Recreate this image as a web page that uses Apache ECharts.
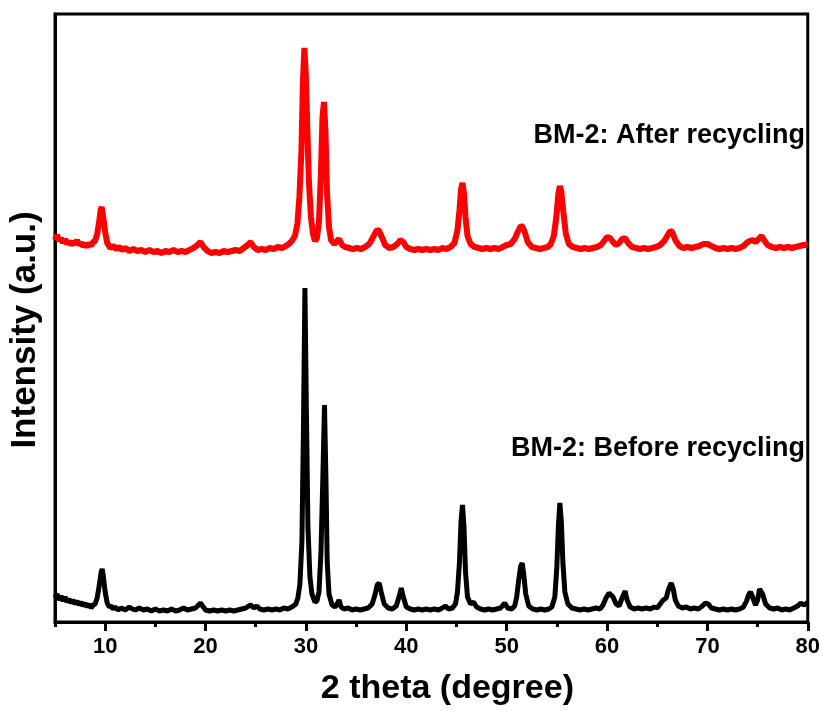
<!DOCTYPE html>
<html>
<head>
<meta charset="utf-8">
<script src="https://cdn.jsdelivr.net/npm/echarts@6/dist/echarts.min.js"></script>
<style>html,body{margin:0;padding:0;background:#fff;}#c{width:823px;height:711px;}</style>
</head>
<body>
<div id="c"></div>
<script>
// ---- data (2 theta in degrees, intensity in arbitrary units) ----
const xTickLabels = [10, 20, 30, 40, 50, 60, 70, 80];
const xMinorTicks = [5, 15, 25, 35, 45, 55, 65, 75];
const seriesNames = ['BM-2: Before recycling', 'BM-2: After recycling'];

const beforeData = [
[5.0,24],[5.2,28],[5.4,22],[5.6,26],[5.8,21],[6.0,25],[6.2,20],[6.4,23],[6.6,19],[6.8,22],[7.0,18],[7.2,21],[7.4,17],[7.6,20],[7.8,16],[8.0,19],[8.2,15],[8.4,18],[8.6,14],[8.8,17],
[9.0,18],[9.2,24],[9.4,36],[9.6,50],[9.7,53],[9.8,47],[10.0,30],[10.2,19],[10.4,15],[10.6,16],[10.8,13],[11.0,15],[11.3,12],[11.6,14],[12.0,12],[12.4,15],[12.7,13],[13.0,12],[13.4,14],[13.8,12],
[14.2,13],[14.6,11],[15.0,13],[15.4,11],[15.8,12],[16.2,11],[16.6,13],[17.0,11],[17.4,12],[17.8,14],[18.2,12],[18.6,13],[19.0,14],[19.3,17],[19.5,19],[19.7,16],[20.0,12],[20.4,11],[20.8,12],[21.2,11],
[21.6,12],[22.0,11],[22.4,12],[22.8,11],[23.2,12],[23.6,13],[24.0,14],[24.3,16],[24.5,17],[24.8,14],[25.1,16],[25.4,13],[25.8,12],[26.2,13],[26.6,12],[27.0,13],[27.4,12],[27.8,14],[28.2,13],[28.6,15],
[29.0,18],[29.2,24],[29.4,38],[29.6,80],[29.75,190],[29.9,334],[30.05,210],[30.2,95],[30.4,45],[30.6,28],[30.9,20],[31.1,21],[31.3,30],[31.5,70],[31.7,150],[31.85,217],[32.0,140],[32.12,60],[32.3,28],[32.6,17],
[32.9,15],[33.1,18],[33.3,22],[33.5,15],[33.8,13],[34.2,14],[34.6,12],[35.0,13],[35.4,12],[35.8,13],[36.2,14],[36.6,18],[36.9,28],[37.1,37],[37.3,39],[37.5,30],[37.8,18],[38.2,14],[38.6,13],[39.0,16],
[39.3,26],[39.5,34],[39.7,25],[40.0,15],[40.4,13],[40.8,12],[41.2,13],[41.6,12],[42.0,13],[42.4,12],[42.8,13],[43.2,12],[43.6,14],[43.9,16],[44.2,13],[44.6,14],[44.9,18],[45.1,30],[45.3,60],[45.45,100],
[45.6,117],[45.75,95],[45.9,50],[46.1,25],[46.4,18],[46.7,20],[47.0,15],[47.4,13],[47.8,12],[48.2,13],[48.6,12],[49.0,13],[49.4,14],[49.8,19],[50.1,14],[50.5,13],[50.8,16],[51.0,25],[51.2,42],[51.4,56],
[51.55,59],[51.7,48],[51.9,28],[52.2,16],[52.6,13],[53.0,12],[53.4,13],[53.8,12],[54.2,13],[54.5,15],[54.8,25],[55.0,55],[55.15,95],[55.3,119],[55.45,100],[55.6,60],[55.8,30],[56.1,18],[56.5,14],[56.9,13],
[57.3,12],[57.7,13],[58.1,12],[58.5,13],[58.9,14],[59.3,13],[59.6,17],[59.9,24],[60.2,29],[60.4,27],[60.6,25],[60.9,18],[61.2,16],[61.5,24],[61.8,31],[62.0,22],[62.3,15],[62.7,13],[63.1,14],[63.5,13],
[63.9,14],[64.3,13],[64.7,15],[65.0,14],[65.3,18],[65.6,22],[65.9,24],[66.1,32],[66.4,39],[66.6,33],[66.8,22],[67.1,16],[67.5,14],[67.9,15],[68.3,13],[68.7,14],[69.1,13],[69.5,16],[69.8,19],[70.1,18],
[70.4,14],[70.8,13],[71.2,12],[71.6,13],[72.0,12],[72.4,13],[72.8,12],[73.2,13],[73.6,15],[73.9,21],[74.1,27],[74.3,30],[74.5,25],[74.8,17],[75.0,22],[75.2,33],[75.35,35],[75.5,28],[75.8,18],[76.2,14],
[76.6,13],[77.0,14],[77.4,12],[77.8,13],[78.2,12],[78.6,14],[79.0,16],[79.3,19],[79.6,17],[79.8,18],[80.0,20]
];

const afterData = [
[5.0,382],[5.2,387],[5.4,381],[5.6,384],[5.8,379],[6.0,383],[6.2,378],[6.4,381],[6.6,377],[6.8,380],[7.0,378],[7.2,382],[7.4,377],[7.6,379],[7.8,376],[8.0,378],[8.2,375],[8.4,379],[8.6,376],[8.8,380],
[9.0,381],[9.2,388],[9.4,400],[9.55,412],[9.65,415],[9.8,405],[10.0,390],[10.2,379],[10.5,374],[10.8,376],[11.1,373],[11.4,375],[11.7,372],[12.0,374],[12.4,371],[12.8,373],[13.2,371],[13.6,372],[14.0,370],[14.4,372],
[14.8,370],[15.2,371],[15.6,369],[16.0,371],[16.4,370],[16.8,372],[17.2,370],[17.6,371],[18.0,370],[18.4,372],[18.8,374],[19.2,377],[19.5,380],[19.8,375],[20.2,371],[20.6,369],[21.0,370],[21.4,369],[21.8,371],[22.2,370],
[22.6,371],[23.0,372],[23.4,371],[23.8,374],[24.2,377],[24.5,380],[24.8,375],[25.2,372],[25.6,373],[26.0,372],[26.4,374],[26.8,373],[27.2,375],[27.6,374],[28.0,376],[28.3,378],[28.6,381],[28.9,386],[29.15,398],[29.35,425],
[29.55,470],[29.7,540],[29.85,574],[30.0,545],[30.15,490],[30.3,440],[30.5,405],[30.7,388],[30.9,381],[31.1,384],[31.3,400],[31.5,450],[31.65,505],[31.8,520],[31.95,490],[32.1,430],[32.3,395],[32.5,382],[32.8,378],[33.0,380],
[33.3,383],[33.6,377],[33.9,375],[34.3,374],[34.7,373],[35.1,374],[35.5,373],[35.9,375],[36.3,378],[36.6,383],[36.9,389],[37.1,392],[37.3,391],[37.6,384],[37.9,377],[38.3,374],[38.7,375],[39.1,378],[39.4,382],[39.7,380],
[40.0,375],[40.4,373],[40.8,372],[41.2,373],[41.6,372],[42.0,373],[42.4,372],[42.8,373],[43.2,372],[43.6,374],[44.0,373],[44.4,375],[44.8,379],[45.1,392],[45.3,412],[45.45,432],[45.6,439],[45.75,428],[45.9,405],[46.1,386],
[46.4,378],[46.8,375],[47.2,374],[47.6,373],[48.0,374],[48.4,373],[48.8,374],[49.2,373],[49.6,375],[50.0,377],[50.4,378],[50.8,383],[51.1,390],[51.4,396],[51.6,395],[51.8,390],[52.1,380],[52.5,375],[52.9,374],[53.3,373],
[53.7,374],[54.1,375],[54.4,378],[54.7,386],[54.95,405],[55.15,428],[55.3,436],[55.45,430],[55.65,410],[55.9,388],[56.2,378],[56.6,375],[57.0,374],[57.4,373],[57.8,374],[58.2,373],[58.6,374],[59.0,375],[59.4,377],[59.7,381],
[60.0,385],[60.3,384],[60.6,380],[60.9,377],[61.2,379],[61.5,383],[61.8,384],[62.1,379],[62.5,375],[62.9,374],[63.3,373],[63.7,374],[64.1,373],[64.5,374],[64.9,375],[65.3,377],[65.7,381],[66.0,386],[66.3,391],[66.5,390],
[66.8,382],[67.2,376],[67.6,374],[68.0,375],[68.4,374],[68.8,375],[69.2,376],[69.6,378],[70.0,378],[70.4,376],[70.8,374],[71.2,373],[71.6,374],[72.0,373],[72.4,374],[72.8,373],[73.2,374],[73.6,376],[73.9,379],[74.2,381],
[74.5,382],[74.8,380],[75.1,383],[75.4,386],[75.7,381],[76.0,377],[76.4,375],[76.8,374],[77.2,375],[77.6,374],[78.0,375],[78.4,374],[78.8,375],[79.2,376],[79.6,377],[80.0,377]
];

const FONT = 'Liberation Sans, Arial, sans-serif';
const chart = echarts.init(document.getElementById('c'), null, {renderer: 'canvas'});
chart.setOption({
  backgroundColor: '#ffffff',
  animation: false,
  grid: {left: 55, right: 14, top: 14, bottom: 89, show: true, borderColor: '#000', borderWidth: 3, backgroundColor: 'transparent'},
  xAxis: [{
    type: 'value', min: 5, max: 80,
    name: '2 theta (degree)', nameLocation: 'middle', nameGap: 50,
    nameTextStyle: {fontFamily: FONT, fontWeight: 'bold', fontSize: 34, color: '#000', padding: [0, 0, 0, 32]},
    axisLine: {show: true, onZero: false, lineStyle: {color: '#000', width: 3}},
    axisTick: {show: true, inside: false, length: 9, lineStyle: {color: '#000', width: 3}, customValues: xTickLabels},
    axisLabel: {show: true, customValues: xTickLabels, margin: 14, fontFamily: FONT, fontWeight: 'bold', fontSize: 22, color: '#000'},
    splitLine: {show: false}
  }, {
    type: 'value', min: 5, max: 80, position: 'bottom',
    axisLine: {show: false},
    axisTick: {show: true, inside: false, length: 5, lineStyle: {color: '#000', width: 3}, customValues: xMinorTicks},
    axisLabel: {show: false},
    splitLine: {show: false}
  }],
  yAxis: {
    type: 'value', min: 0, max: 608,
    name: 'Intensity (a.u.)', nameLocation: 'middle', nameGap: 12,
    nameTextStyle: {fontFamily: FONT, fontWeight: 'bold', fontSize: 35, color: '#000', padding: [0, 24, 0, 0]},
    axisLine: {show: true, lineStyle: {color: '#000', width: 3}},
    axisTick: {show: false}, axisLabel: {show: false}, splitLine: {show: false}
  },
  series: [{
    name: seriesNames[0], type: 'line', data: beforeData, showSymbol: false,
    lineStyle: {color: '#000', width: 5}, itemStyle: {color: '#000'}, z: 3
  }, {
    name: seriesNames[1], type: 'line', data: afterData, showSymbol: false,
    lineStyle: {color: '#ff0000', width: 6}, itemStyle: {color: '#ff0000'}, z: 3
  }],
  graphic: [{
    type: 'text', right: 18, top: 122,
    style: {text: seriesNames[1], font: 'bold 27px ' + FONT, fill: '#000'}
  }, {
    type: 'text', right: 18, top: 435,
    style: {text: seriesNames[0], font: 'bold 27px ' + FONT, fill: '#000'}
  }]
});
</script>
</body>
</html>
